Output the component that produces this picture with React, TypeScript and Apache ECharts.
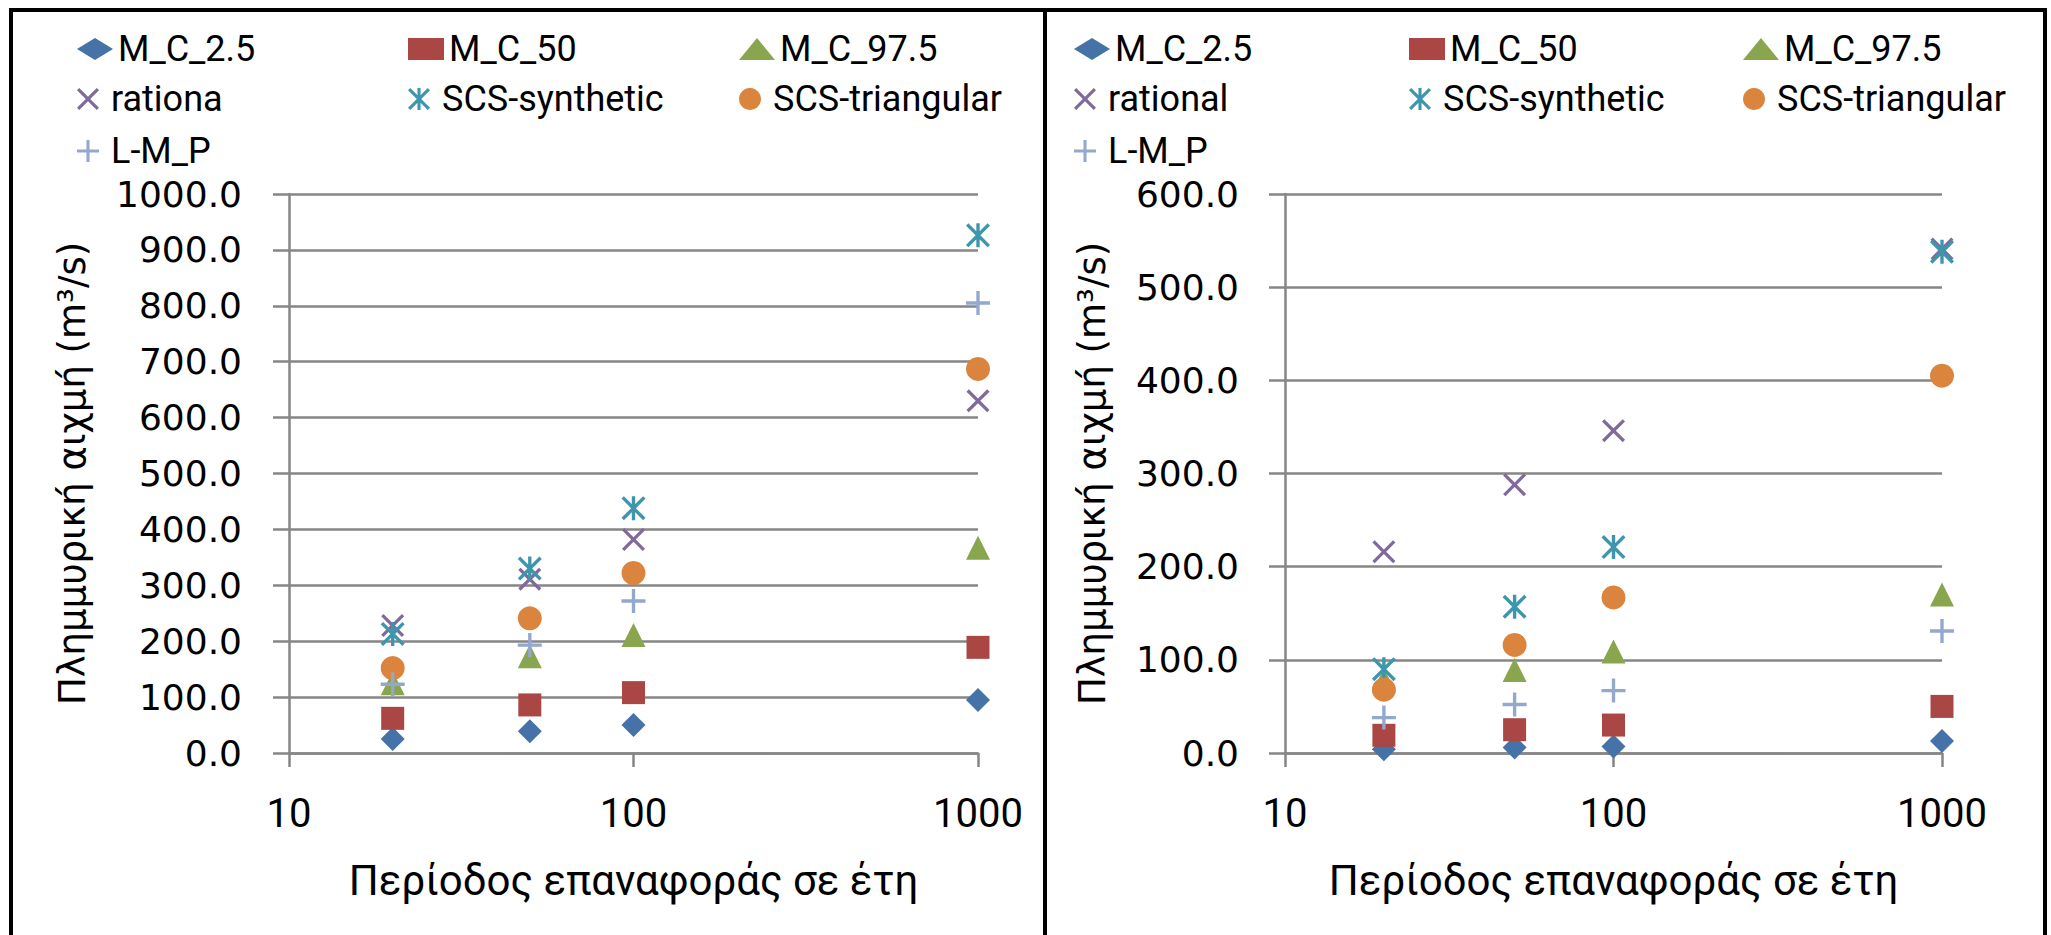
import React, { useEffect, useRef } from "react";
import * as echarts from "echarts";

// ---------- data ----------
const returnPeriods = [20, 50, 100, 1000];

const leftNames = ["M_C_2.5", "M_C_50", "M_C_97.5", "rationa", "SCS-synthetic", "SCS-triangular", "L-M_P"];
const rightNames = ["M_C_2.5", "M_C_50", "M_C_97.5", "rational", "SCS-synthetic", "SCS-triangular", "L-M_P"];

const leftMC25 = [25, 39, 50, 95];
const leftMC50 = [62, 86, 108, 189];
const leftMC975 = [125, 173, 211, 367];
const leftRational = [228, 311, 382, 630];
const leftSynthetic = [213, 330, 438, 926];
const leftTriangular = [152, 241, 322, 687];
const leftLMP = [123, 193, 272, 805];

const rightMC25 = [4, 6, 7, 13];
const rightMC50 = [19, 25, 30, 50];
const rightMC975 = [78, 89, 109, 170];
const rightRational = [216, 288, 346, 541];
const rightSynthetic = [90, 157, 221, 538];
const rightTriangular = [68, 116, 167, 405];
const rightLMP = [38, 52, 67, 131];

const leftYMax = 1000;
const rightYMax = 600;
const yInterval = 100;

const xTitle = "Περίοδος επαναφοράς σε έτη";
const yTitle = "Πλημμυρική αιχμή (m³/s)";

// ---------- styles ----------
const colors = ["#4572A7", "#AA4643", "#89A54E", "#80699B", "#3D96AE", "#DB843D", "#92A8CD"];
const xPath = "path://M10 0 L50 40 L90 0 L100 10 L60 50 L100 90 L90 100 L50 60 L10 100 L0 90 L40 50 L0 10 Z";
const starPath =
  "path://M10 0 L50 40 L90 0 L100 10 L60 50 L100 90 L90 100 L50 60 L10 100 L0 90 L40 50 L0 10 Z M43 0 L57 0 L57 100 L43 100 Z";
const plusPath = "path://M43 0 L57 0 L57 43 L100 43 L100 57 L57 57 L57 100 L43 100 L43 57 L0 57 L0 43 L43 43 Z";
const symbols = ["diamond", "rect", "triangle", xPath, starPath, "circle", plusPath];
const symbolSizes = [24, 23, 24, 23, 24, 24, 24];

const gray = "#868686";

export default function App() {
  const ref = useRef<HTMLDivElement>(null);

  useEffect(() => {
    if (!ref.current) return;
    const chart = echarts.init(ref.current, undefined, { renderer: "svg" });

    const leftData = [leftMC25, leftMC50, leftMC975, leftRational, leftSynthetic, leftTriangular, leftLMP];
    const rightData = [rightMC25, rightMC50, rightMC975, rightRational, rightSynthetic, rightTriangular, rightLMP];

    const grids = [
      { left: 289, top: 194, width: 689, height: 559 },
      { left: 1285, top: 194, width: 657, height: 559 },
    ];

    const lineStyle = { color: gray, width: 2.5 };

    const makeX = (gridIndex: number) => ({
      type: "log",
      logBase: 10,
      min: 10,
      max: 1000,
      gridIndex,
      name: xTitle,
      nameLocation: "middle",
      nameGap: 106,
      nameTextStyle: { fontFamily: "Roboto", fontSize: 42, color: "#000" },
      axisLine: { show: true, lineStyle },
      axisTick: { show: true, length: 14, lineStyle },
      axisLabel: {
        margin: 40,
        fontFamily: "Roboto",
        fontSize: 40,
        color: "#000",
        formatter: (v: number) => String(Math.round(v)),
      },
      splitLine: { show: false },
      minorTick: { show: false },
    });

    const makeY = (gridIndex: number, max: number, nameGap: number, margin: number) => ({
      type: "value",
      gridIndex,
      min: 0,
      max,
      interval: yInterval,
      name: yTitle,
      nameLocation: "middle",
      nameRotate: 90,
      nameGap,
      nameTextStyle: { fontFamily: "DejaVu Sans", fontSize: 37, color: "#000" },
      axisLine: { show: true, lineStyle },
      axisTick: { show: true, length: 16, lineStyle },
      axisLabel: {
        margin,
        fontFamily: "DejaVu Sans",
        fontSize: 36,
        color: "#000",
        formatter: (v: number) => v.toFixed(1),
      },
      splitLine: { show: true, lineStyle },
    });

    const series: any[] = [];
    [leftNames, rightNames].forEach((names, p) => {
      const vals = p === 0 ? leftData : rightData;
      names.forEach((name, i) => {
        series.push({
          type: "scatter",
          name,
          xAxisIndex: p,
          yAxisIndex: p,
          symbol: symbols[i],
          symbolSize: symbolSizes[i],
          itemStyle: { color: colors[i], opacity: 1 },
          data: returnPeriods.map((t, k) => [t, vals[i][k]]),
        });
      });
    });

    const rows = [49, 99, 151];
    const colsLeft = [95, 426, 757];
    const colsRight = [1092, 1427, 1761];
    const legends: any[] = [];
    [leftNames, rightNames].forEach((names, p) => {
      const cols = p === 0 ? colsLeft : colsRight;
      names.forEach((name, i) => {
        const r = Math.floor(i / 3);
        const c = i % 3;
        legends.push({
          data: [name],
          left: cols[c] - 18,
          top: rows[r] - 18,
          padding: 0,
          itemWidth: 36,
          itemHeight: 22,
          itemGap: 0,
          symbolKeepAspect: true,
          selectedMode: false,
          textStyle: { fontFamily: "Roboto", fontSize: 36, color: "#000" },
        });
      });
    });

    const border = { stroke: "#000", lineWidth: 4 };
    chart.setOption({
      animation: false,
      backgroundColor: "#fff",
      grid: grids,
      xAxis: [makeX(0), makeX(1)],
      yAxis: [makeY(0, leftYMax, 198, 47), makeY(1, rightYMax, 174, 46)],
      legend: legends,
      series,
      graphic: [
        { type: "line", shape: { x1: 11, y1: 8, x2: 11, y2: 935 }, style: border },
        { type: "line", shape: { x1: 9, y1: 10, x2: 2047, y2: 10 }, style: border },
        { type: "line", shape: { x1: 1045, y1: 8, x2: 1045, y2: 935 }, style: border },
        { type: "line", shape: { x1: 2045, y1: 8, x2: 2045, y2: 935 }, style: border },
      ],
    });

    return () => chart.dispose();
  }, []);

  return (
    <div
      ref={ref}
      style={{ position: "fixed", left: 0, top: 0, width: 2051, height: 935, background: "#fff" }}
    />
  );
}
